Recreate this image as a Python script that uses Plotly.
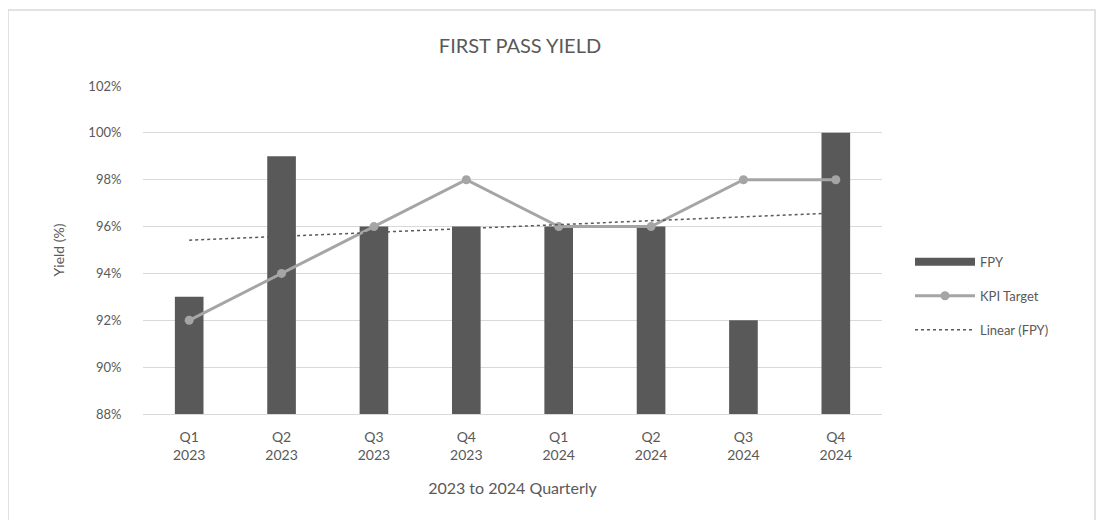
import numpy as np
import plotly.graph_objects as go

quarters = ["Q1<br>2023", "Q2<br>2023", "Q3<br>2023", "Q4<br>2023",
            "Q1<br>2024", "Q2<br>2024", "Q3<br>2024", "Q4<br>2024"]
fpy = [93, 99, 96, 96, 96, 96, 92, 100]
kpi_target = [92, 94, 96, 98, 96, 96, 98, 98]
y_ticks = [88, 90, 92, 94, 96, 98, 100, 102]
y_tick_labels = ["88%", "90%", "92%", "94%", "96%", "98%", "100%", "102%"]

# Linear trendline of FPY (least squares, as in the spreadsheet "Linear (FPY)")
xi = np.arange(1, len(fpy) + 1)
slope, intercept = np.polyfit(xi, fpy, 1)
trend = (slope * xi + intercept).tolist()

font_family = "Lato, 'Open Sans', sans-serif"
text_color = "#595959"

L, T, PW, PH = 135, 78, 739, 328

fig = go.Figure()
fig.add_trace(go.Bar(x=quarters, y=[v - 88 for v in fpy], base=88, name="FPY",
                     showlegend=False,
                     marker=dict(color="#595959", line=dict(width=0)),
                     customdata=fpy, hovertemplate="%{customdata}%<extra>FPY</extra>"))
# legend entry for the bars, drawn as a thick bar-like line like the original legend
fig.add_trace(go.Scatter(x=[None], y=[None], name="FPY", mode="lines", legendgroup="a",
                         line=dict(color="#595959", width=8), hoverinfo="skip"))
fig.add_trace(go.Scatter(x=quarters, y=kpi_target, name="KPI Target", mode="lines+markers",
                         legendgroup="b",
                         line=dict(color="#a5a5a5", width=3),
                         marker=dict(color="#a5a5a5", size=9)))
fig.add_trace(go.Scatter(x=quarters, y=trend, name="Linear (FPY)", mode="lines",
                         legendgroup="c",
                         line=dict(color="#595959", width=1.5, dash="dot")))

fig.update_layout(
    width=1104, height=520,
    margin=dict(l=L, r=1104 - L - PW, t=T, b=520 - T - PH),
    paper_bgcolor="white", plot_bgcolor="white",
    font=dict(family=font_family, color=text_color, size=13),
    title=dict(text="FIRST PASS YIELD", x=512 / 1104, xanchor="center",
               y=1 - 38 / 520, yanchor="middle",
               font=dict(size=20, color=text_color, family=font_family)),
    bargap=0.69,
    showlegend=True,
    legend=dict(x=(902 - L) / PW, xanchor="left", y=0.36, yanchor="middle",
                font=dict(size=13, color=text_color), tracegroupgap=14,
                traceorder="grouped", itemwidth=60,
                bgcolor="rgba(0,0,0,0)"),
    xaxis=dict(showgrid=False, showline=True, linecolor="#d9d9d9", linewidth=1,
               ticks="", tickfont=dict(size=14, color=text_color), ticklabelstandoff=10,
               title=dict(text="2023 to 2024 Quarterly", font=dict(size=16, color=text_color),
                          standoff=20)),
    yaxis=dict(range=[88, 102], tickvals=y_ticks, ticktext=y_tick_labels,
               showgrid=True, gridcolor="#d9d9d9", gridwidth=1,
               zeroline=False, showline=False,
               ticks="outside", ticklen=18, tickcolor="rgba(0,0,0,0)",
               tickfont=dict(size=13, color=text_color),
               title=dict(text="Yield (%)", font=dict(size=14, color=text_color), standoff=20)),
    shapes=[dict(type="rect", xref="paper", yref="paper",
                 x0=(0 - L) / PW, x1=(1087 - L) / PW,
                 y0=(T + PH - 514) / PH, y1=(T + PH - 2) / PH,
                 line=dict(color="#d9d9d9", width=1.5), fillcolor="rgba(0,0,0,0)", layer="below")],
)

fig.write_html("out.html")
